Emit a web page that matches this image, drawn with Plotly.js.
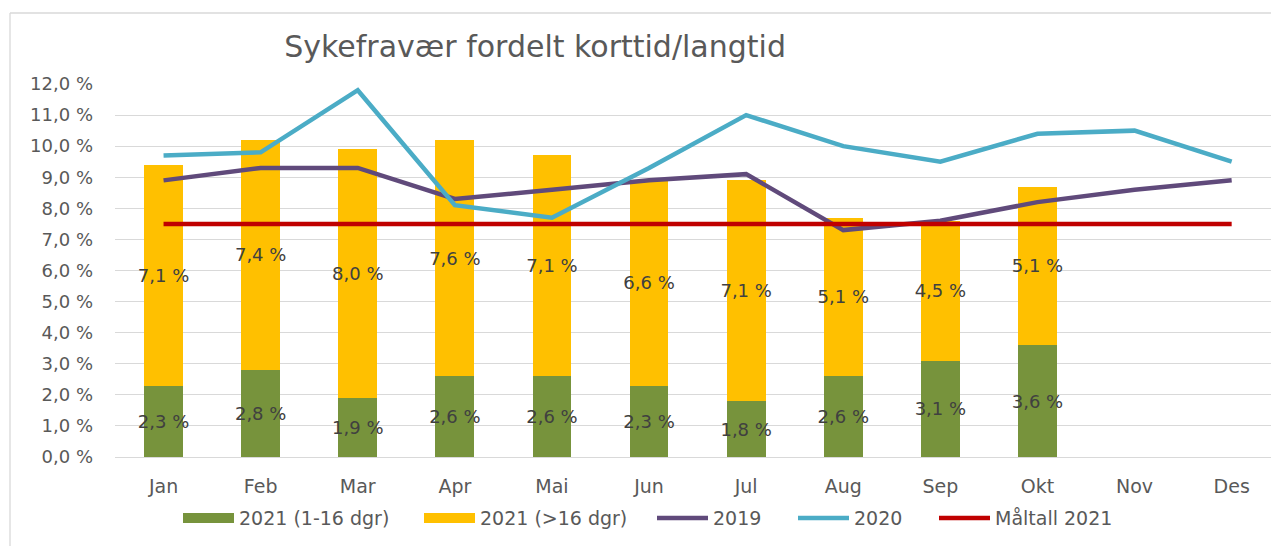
<!DOCTYPE html>
<html>
<head>
<meta charset="utf-8">
<script src="https://cdn.plot.ly/plotly-3.0.1.min.js"></script>
<style>
html, body { margin: 0; padding: 0; overflow: hidden; background: #fff; }
#chart { width: 1271px; height: 546px; }
</style>
</head>
<body>
<div id="chart"></div>
<script>
const months = ["Jan", "Feb", "Mar", "Apr", "Mai", "Jun", "Jul", "Aug", "Sep", "Okt", "Nov", "Des"];
const short2021 = [2.3, 2.8, 1.9, 2.6, 2.6, 2.3, 1.8, 2.6, 3.1, 3.6, null, null];
const long2021 = [7.1, 7.4, 8.0, 7.6, 7.1, 6.6, 7.1, 5.1, 4.5, 5.1, null, null];
const total2019 = [8.9, 9.3, 9.3, 8.3, 8.6, 8.9, 9.1, 7.3, 7.6, 8.2, 8.6, 8.9];
const total2020 = [9.7, 9.8, 11.8, 8.1, 7.7, 9.3, 11.0, 10.0, 9.5, 10.4, 10.5, 9.5];
const target2021 = [7.5, 7.5, 7.5, 7.5, 7.5, 7.5, 7.5, 7.5, 7.5, 7.5, 7.5, 7.5];
const seriesNames = ["2021 (1-16 dgr)", "2021 (>16 dgr)", "2019", "2020", "Måltall 2021"];

const FONT = "DejaVu Sans";
const labelFont = { family: FONT, size: 18, color: "#404040" };
const COLORS = ["#77933C", "#FFC000", "#604A7B", "#4BACC6", "#C00000"];

const traces = [
  {
    type: "bar", name: seriesNames[0], x: months, y: short2021,
    marker: { color: COLORS[0] }, showlegend: false, legendgroup: "g0",
    texttemplate: "%{y:.1f} %", textposition: "inside", insidetextanchor: "middle",
    textangle: 0, constraintext: "none", insidetextfont: labelFont
  },
  {
    type: "bar", name: seriesNames[1], x: months, y: long2021,
    marker: { color: COLORS[1] }, showlegend: false, legendgroup: "g1",
    texttemplate: "%{y:.1f} %", textposition: "inside", insidetextanchor: "middle",
    textangle: 0, constraintext: "none", insidetextfont: labelFont
  },
  // legend swatches for the bar series (wide rectangles, as in the original)
  {
    type: "scatter", mode: "lines", name: seriesNames[0], x: [null], y: [null],
    line: { color: COLORS[0], width: 13 }, legend: "legend", legendgroup: "g0", hoverinfo: "skip"
  },
  {
    type: "scatter", mode: "lines", name: seriesNames[1], x: [null], y: [null],
    line: { color: COLORS[1], width: 13 }, legend: "legend2", legendgroup: "g1", hoverinfo: "skip"
  },
  {
    type: "scatter", mode: "lines", name: seriesNames[2], x: months, y: total2019,
    line: { color: COLORS[2], width: 4.5 }, legend: "legend3"
  },
  {
    type: "scatter", mode: "lines", name: seriesNames[3], x: months, y: total2020,
    line: { color: COLORS[3], width: 4.5 }, legend: "legend4"
  },
  {
    type: "scatter", mode: "lines", name: seriesNames[4], x: months, y: target2021,
    line: { color: COLORS[4], width: 4.5 }, legend: "legend5"
  }
];

function legendAt(px) {
  return {
    orientation: "h",
    xref: "container", x: (px - 5) / 1271, xanchor: "left",
    yref: "container", y: 0.051, yanchor: "middle",
    font: { family: FONT, size: 19, color: "#595959" },
    itemwidth: 51,
    bgcolor: "rgba(0,0,0,0)", borderwidth: 0
  };
}

const layout = {
  width: 1271, height: 546,
  margin: { l: 115, r: 0, t: 84, b: 89, pad: 0 },
  paper_bgcolor: "#ffffff", plot_bgcolor: "#ffffff",
  separators: ", ",
  font: { family: FONT, size: 18, color: "#595959" },
  barmode: "stack",
  bargap: 0.6,
  title: {
    text: "Sykefravær fordelt korttid/langtid",
    font: { family: FONT, size: 30, color: "#595959" },
    xref: "container", x: 0.421, xanchor: "center",
    yref: "container", y: 0.914, yanchor: "middle"
  },
  xaxis: {
    type: "category",
    range: [-0.5, 11.405],
    showgrid: false,
    showline: true, linecolor: "#d9d9d9", linewidth: 1.3,
    ticks: "", ticklabelstandoff: 12,
    tickfont: { family: FONT, size: 19, color: "#595959" },
    fixedrange: true
  },
  yaxis: {
    range: [0, 12], dtick: 1, tick0: 0,
    tickformat: ".1f", ticksuffix: " %",
    showgrid: true, gridcolor: "#d9d9d9", gridwidth: 1.3,
    zeroline: false,
    ticks: "", ticklabelstandoff: 21,
    tickfont: { family: FONT, size: 18, color: "#595959" },
    fixedrange: true
  },
  showlegend: true,
  legend: legendAt(183),
  legend2: legendAt(424),
  legend3: legendAt(657),
  legend4: legendAt(798),
  legend5: legendAt(939),
  shapes: [
    { type: "line", xref: "paper", yref: "paper",
      x0: (10 - 115) / 1156, x1: (10 - 115) / 1156,
      y0: (457 - 13) / 373, y1: (457 - 560) / 373,
      line: { color: "#d9d9d9", width: 1.3 }, layer: "below" },
    { type: "line", xref: "paper", yref: "paper",
      x0: (10 - 115) / 1156, x1: (1290 - 115) / 1156,
      y0: (457 - 13) / 373, y1: (457 - 13) / 373,
      line: { color: "#d9d9d9", width: 1.3 }, layer: "below" }
  ]
};

Plotly.newPlot("chart", traces, layout, { displayModeBar: false });
</script>
</body>
</html>
